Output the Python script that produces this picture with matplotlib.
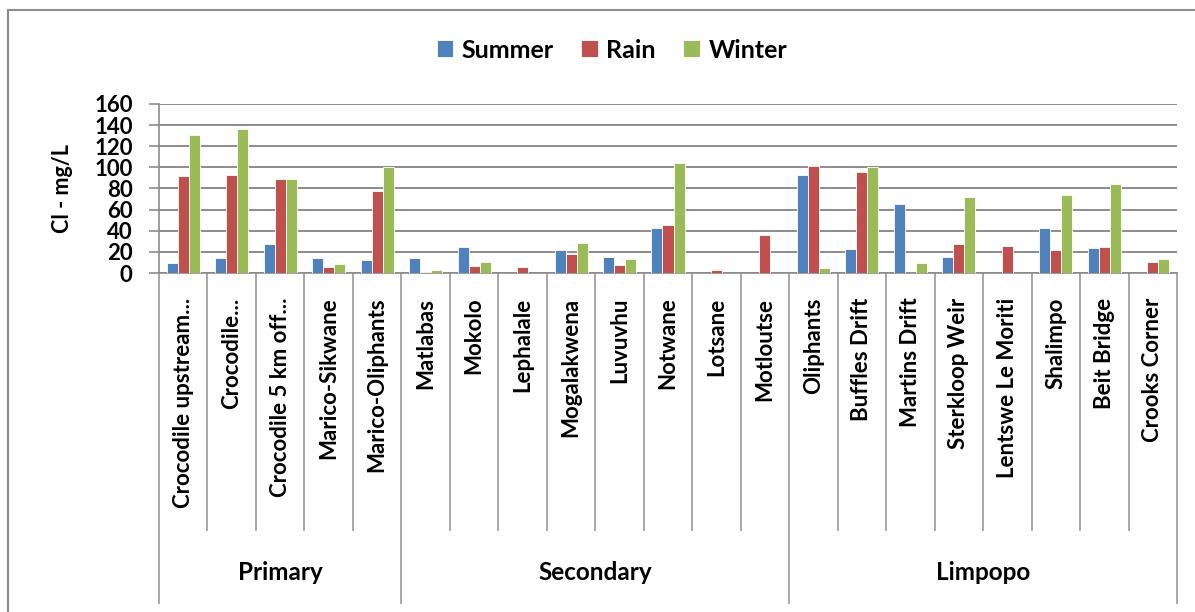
import matplotlib
matplotlib.use('Agg')
import matplotlib.pyplot as plt
import matplotlib.transforms as mtransforms
from matplotlib.lines import Line2D
import numpy as np

plt.rcParams['font.family'] = ['Lato', 'DejaVu Sans']
plt.rcParams['font.weight'] = 'bold'

# data (Cl - mg/L)
sites = ['Crocodile upstream...', 'Crocodile...', 'Crocodile 5 km off...',
         'Marico-Sikwane', 'Marico-Oliphants',
         'Matlabas', 'Mokolo', 'Lephalale', 'Mogalakwena', 'Luvuvhu',
         'Notwane', 'Lotsane', 'Motloutse',
         'Oliphants', 'Buffles Drift', 'Martins Drift', 'Sterkloop Weir',
         'Lentswe Le Moriti', 'Shalimpo', 'Beit Bridge', 'Crooks Corner']
groups = ['Primary', 'Secondary', 'Limpopo']
group_sizes = [5, 8, 8]

summer = [9.5, 14, 27, 14.5, 12, 14.5, 25, 0, 22, 15, 43, 0, 0,
          93, 23, 65, 15, 0, 43, 24, 0]
rain = [92, 92.5, 89, 5.5, 78, 1.3, 6.6, 6, 18, 7.6, 45.5, 3.2, 36,
        101.5, 96, 0, 27, 26, 22, 25, 10.7]
winter = [130.5, 136.5, 89, 8.5, 100, 3.2, 10, 0, 28.5, 13, 104, 0, 0,
          4.7, 100, 9, 72, 0, 74, 84, 13.6]

series = ['Summer', 'Rain', 'Winter']
colors = ['#4F81BD', '#C0504D', '#9BBB59']

W, H = 1195, 612
fig = plt.figure(figsize=(W / 100, H / 100), dpi=100)
ax = fig.add_axes([159 / W, (H - 273) / H, (1177 - 159) / W, (273 - 104) / H])

x = np.arange(len(sites))
bw = 0.227
for k, (vals, c, name) in enumerate(zip([summer, rain, winter], colors, series)):
    ax.bar(x + 0.5 + (k - 1) * bw, vals, bw, color=c, edgecolor='white',
           linewidth=0.6, label=name, zorder=3)

ax.set_xlim(0, len(sites))
ax.set_ylim(0, 160)
ax.set_yticks(np.arange(0, 161, 20))
ax.tick_params(axis='y', length=7, width=1.2, color='#8C8C8C', labelsize=16, pad=12)
for t in ax.get_yticklabels():
    t.set_fontweight('bold')
ax.set_xticks([])
ax.grid(axis='y', color='#8C8C8C', linewidth=1.4, zorder=0)
for s in ['top', 'right']:
    ax.spines[s].set_visible(False)
ax.spines['left'].set_color('#8C8C8C')
ax.spines['bottom'].set_color('#8C8C8C')
ax.spines['left'].set_linewidth(1.2)
ax.spines['bottom'].set_linewidth(1.2)
ax.set_ylabel('Cl - mg/L', fontsize=15.5, fontweight='bold', labelpad=15)

# multi-level category axis
trans = mtransforms.blended_transform_factory(ax.transData, ax.transAxes)
edges = np.concatenate([[0], np.cumsum(group_sizes)])
for i in range(len(sites) + 1):
    bottom = -1.953 if i in edges else -1.521
    ax.add_line(Line2D([i, i], [0, bottom], transform=trans, color='#A0A0A0',
                       linewidth=1.3, clip_on=False))
for i, name in enumerate(sites):
    ax.text(i + 0.5, -0.145, name, transform=trans, rotation=90, ha='center',
            va='top', fontsize=16, fontweight='bold')
for g, name in enumerate(groups):
    ax.text((edges[g] + edges[g + 1]) / 2, -1.775, name, transform=trans,
            ha='center', va='center', fontsize=17.5, fontweight='bold')

leg = fig.legend(loc='center', bbox_to_anchor=(612 / W, 1 - 50 / H), ncol=3,
                 frameon=False, fontsize=18, handlelength=0.65, handleheight=0.65,
                 handletextpad=0.35, columnspacing=1.1)
for t in leg.get_texts():
    t.set_fontweight('bold')

# outer chart border (top and left visible)
fig.add_artist(Line2D([8 / W, 1.0], [1 - 10 / H, 1 - 10 / H], transform=fig.transFigure,
                      color='#8C8C8C', linewidth=1.5))
fig.add_artist(Line2D([8 / W, 8 / W], [0, 1 - 10 / H], transform=fig.transFigure,
                      color='#8C8C8C', linewidth=1.5))

fig.savefig('out.png', dpi=100, facecolor='white')
